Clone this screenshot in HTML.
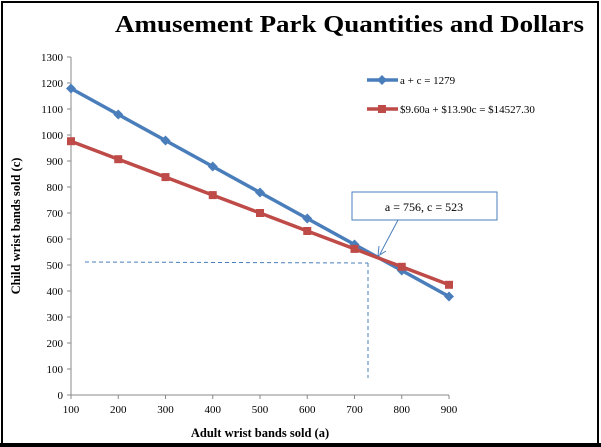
<!DOCTYPE html>
<html><head><style>
body{margin:0;background:#fff}
svg{display:block}
text{font-family:"Liberation Serif",serif}
</style></head><body>
<svg width="601" height="447" viewBox="0 0 601 447">
<rect x="0" y="0" width="601" height="447" fill="#fff"/>
<rect x="2" y="2" width="596" height="442" fill="none" stroke="#000" stroke-width="2"/>
<rect x="0" y="443" width="601" height="4" fill="#000"/>
<text x="115" y="32" font-size="24" font-weight="bold" textLength="469" lengthAdjust="spacingAndGlyphs">Amusement Park Quantities and Dollars</text>
<g stroke="#888" stroke-width="1">
<line x1="71" y1="57" x2="71" y2="395"/>
<line x1="71" y1="395" x2="449" y2="395"/>
<line x1="67" y1="57" x2="71" y2="57"/><line x1="67" y1="83" x2="71" y2="83"/><line x1="67" y1="109" x2="71" y2="109"/><line x1="67" y1="135" x2="71" y2="135"/><line x1="67" y1="161" x2="71" y2="161"/><line x1="67" y1="187" x2="71" y2="187"/><line x1="67" y1="213" x2="71" y2="213"/><line x1="67" y1="239" x2="71" y2="239"/><line x1="67" y1="265" x2="71" y2="265"/><line x1="67" y1="291" x2="71" y2="291"/><line x1="67" y1="317" x2="71" y2="317"/><line x1="67" y1="343" x2="71" y2="343"/><line x1="67" y1="369" x2="71" y2="369"/><line x1="67" y1="395" x2="71" y2="395"/>
<line x1="71" y1="395" x2="71" y2="399"/><line x1="118.25" y1="395" x2="118.25" y2="399"/><line x1="165.5" y1="395" x2="165.5" y2="399"/><line x1="212.75" y1="395" x2="212.75" y2="399"/><line x1="260" y1="395" x2="260" y2="399"/><line x1="307.25" y1="395" x2="307.25" y2="399"/><line x1="354.5" y1="395" x2="354.5" y2="399"/><line x1="401.75" y1="395" x2="401.75" y2="399"/><line x1="449" y1="395" x2="449" y2="399"/>
</g>
<g font-size="11" text-anchor="end">
<text x="63" y="61">1300</text><text x="63" y="87">1200</text><text x="63" y="113">1100</text><text x="63" y="139">1000</text><text x="63" y="165">900</text><text x="63" y="191">800</text><text x="63" y="217">700</text><text x="63" y="243">600</text><text x="63" y="269">500</text><text x="63" y="295">400</text><text x="63" y="321">300</text><text x="63" y="347">200</text><text x="63" y="373">100</text><text x="63" y="399">0</text>
</g>
<g font-size="11" text-anchor="middle">
<text x="71" y="413">100</text><text x="118.25" y="413">200</text><text x="165.5" y="413">300</text><text x="212.75" y="413">400</text><text x="260" y="413">500</text><text x="307.25" y="413">600</text><text x="354.5" y="413">700</text><text x="401.75" y="413">800</text><text x="449" y="413">900</text>
</g>
<text x="260" y="437" font-size="12.5" font-weight="bold" text-anchor="middle">Adult wrist bands sold (a)</text>
<text transform="translate(20,226) rotate(-90)" font-size="12.5" font-weight="bold" text-anchor="middle">Child wrist bands sold (c)</text>
<g stroke="#4a7ebb" stroke-width="1" stroke-dasharray="4,3" fill="none">
<line x1="85" y1="262" x2="368" y2="263"/>
<line x1="368" y1="263" x2="368" y2="378"/>
</g>
<polyline points="71,88.5 118.25,114.5 165.5,140.5 212.75,166.5 260,192.5 307.25,218.5 354.5,244.5 401.75,270.5 449,296.5" fill="none" stroke="#4a7ebb" stroke-width="3.5"/>
<g fill="#4a7ebb">
<path d="M71,83.5l5,5l-5,5l-5,-5z"/><path d="M118.25,109.5l5,5l-5,5l-5,-5z"/><path d="M165.5,135.5l5,5l-5,5l-5,-5z"/><path d="M212.75,161.5l5,5l-5,5l-5,-5z"/><path d="M260,187.5l5,5l-5,5l-5,-5z"/><path d="M307.25,213.5l5,5l-5,5l-5,-5z"/><path d="M354.5,239.5l5,5l-5,5l-5,-5z"/><path d="M401.75,265.5l5,5l-5,5l-5,-5z"/><path d="M449,291.5l5,5l-5,5l-5,-5z"/>
</g>
<polyline points="71,141.2 118.25,159.2 165.5,177.1 212.75,195.1 260,213 307.25,231 354.5,248.9 401.75,266.8 449,284.8" fill="none" stroke="#be4b48" stroke-width="3.5"/>
<g fill="#be4b48">
<rect x="67" y="137.2" width="8" height="8"/><rect x="114.25" y="155.2" width="8" height="8"/><rect x="161.5" y="173.1" width="8" height="8"/><rect x="208.75" y="191.1" width="8" height="8"/><rect x="256" y="209" width="8" height="8"/><rect x="303.25" y="227" width="8" height="8"/><rect x="350.5" y="244.9" width="8" height="8"/><rect x="397.75" y="262.8" width="8" height="8"/><rect x="445" y="280.8" width="8" height="8"/>
</g>
<line x1="367" y1="80" x2="398" y2="80" stroke="#4a7ebb" stroke-width="3.5"/>
<path d="M382,75l5,5l-5,5l-5,-5z" fill="#4a7ebb"/>
<text x="400" y="84" font-size="11">a + c = 1279</text>
<line x1="367" y1="109" x2="398" y2="109" stroke="#be4b48" stroke-width="3.5"/>
<rect x="378" y="105" width="8" height="8" fill="#be4b48"/>
<text x="400" y="113" font-size="11">$9.60a + $13.90c = $14527.30</text>
<rect x="352" y="192" width="145" height="28" fill="#fff" stroke="#4a7ebb" stroke-width="1"/>
<text x="424" y="211" font-size="12" text-anchor="middle">a = 756, c = 523</text>
<line x1="398" y1="220" x2="380" y2="254" stroke="#4a7ebb" stroke-width="1"/>
<path d="M378,256 l1,-10 M378,256 l8,-5" stroke="#4a7ebb" stroke-width="1" fill="none"/>
</svg>
</body></html>
